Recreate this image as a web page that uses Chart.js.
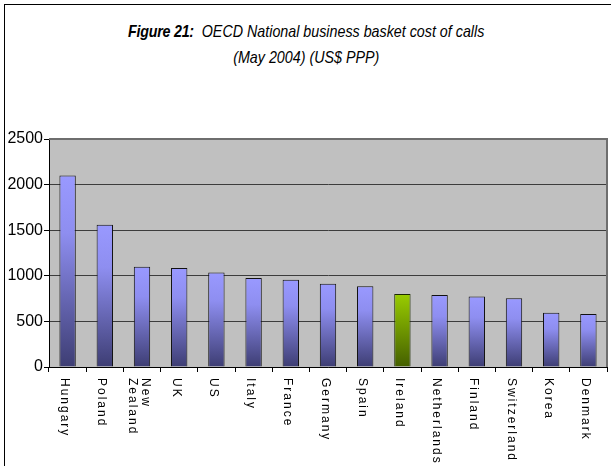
<!DOCTYPE html>
<html lang="en">
<head>
  <meta charset="UTF-8">
  <title>OECD National business basket cost of calls</title>
  <style>
    * { margin: 0; padding: 0; box-sizing: border-box; }
    html, body { width: 611px; height: 466px; background: #fff; overflow: hidden; }
    #wrap { position: relative; width: 611px; height: 466px; }
    #frame {
      position: absolute; left: 4px; top: 4px; width: 620px; height: 480px;
      border-left: 1px solid #000; border-top: 1px solid #000;
    }
    #title {
      position: absolute; left: 0; top: 19px; width: 611px;
      text-align: center; font-family: 'Liberation Sans Narrow', 'Arial Narrow', 'Liberation Sans', sans-serif;
      font-size: 17px; font-style: italic; line-height: 26px; color: #000;
      transform: scaleX(0.84); transform-origin: 310px 0;
    }
    #title b { font-weight: bold; letter-spacing: -0.3px; }
    canvas { position: absolute; left: 0; top: 0; }
  </style>
  <script src="https://cdn.jsdelivr.net/npm/chart.js"></script>
</head>
<body>
  <div id="wrap">
    <div id="frame"></div>
    <div id="title"><b>Figure 21:</b>&nbsp; OECD National business basket cost of calls<br>(May 2004) (US$ PPP)</div>
    <canvas id="chart" width="611" height="466"></canvas>
  </div>

  <script>
    // data
    const countries = ['Hungary', 'Poland', ['New', 'Zealand'], 'UK', 'US', 'Italy', 'France', 'Germany',
                       'Spain', 'Ireland', 'Netherlands', 'Finland', 'Switzerland', 'Korea', 'Denmark'];
    const cost = [2100, 1560, 1100, 1085, 1035, 975, 958, 912, 885, 800, 790, 772, 753, 596, 581];
    const yTicks = [0, 500, 1000, 1500, 2000, 2500];
    const highlight = 'Ireland';

    const font = "'Liberation Sans', Arial, sans-serif";

    function barFill(ctx) {
      const chart = ctx.chart;
      const y = chart.scales.y;
      const hi = countries[ctx.dataIndex] === highlight;
      if (!y || ctx.type !== 'data') return hi ? '#99cc00' : '#9999ff';
      const top = y.getPixelForValue(ctx.parsed.y);
      const bot = y.getPixelForValue(0);
      if (!isFinite(top) || !isFinite(bot)) return hi ? '#99cc00' : '#9999ff';
      const g = chart.ctx.createLinearGradient(0, top, 0, bot);
      if (hi) {
        g.addColorStop(0, '#99cc00');
        g.addColorStop(1, '#445f00');
      } else {
        g.addColorStop(0, '#9999ff');
        g.addColorStop(0.3, '#8e8ef0');
        g.addColorStop(1, '#3d3d73');
      }
      return g;
    }

    // grey plot area + top/right border
    const plotBg = {
      id: 'plotBg',
      beforeDraw(chart) {
        const { ctx, chartArea: a } = chart;
        ctx.save();
        ctx.fillStyle = '#c0c0c0';
        ctx.fillRect(a.left, a.top, a.right - a.left, a.bottom - a.top);
        ctx.restore();
      },
      afterDatasetsDraw(chart) {
        const { ctx, chartArea: a } = chart;
        ctx.save();
        ctx.strokeStyle = '#6e6e6e';
        ctx.lineWidth = 2;
        ctx.beginPath();
        ctx.moveTo(a.left, a.top);
        ctx.lineTo(a.right, a.top);
        ctx.lineTo(a.right, a.bottom);
        ctx.stroke();
        ctx.restore();
      }
    };

    // x labels read top-to-bottom (rotated clockwise)
    const xLabels = {
      id: 'xLabels',
      afterDraw(chart) {
        const { ctx } = chart;
        const x = chart.scales.x;
        ctx.save();
        ctx.fillStyle = '#000';
        ctx.font = '12px ' + font;
        ctx.letterSpacing = '2px';
        ctx.textAlign = 'left';
        ctx.textBaseline = 'middle';
        countries.forEach((c, i) => {
          const lines = Array.isArray(c) ? c : [c];
          const cx = x.getPixelForValue(i) - 3;
          lines.forEach((ln, j) => {
            const off = (j - (lines.length - 1) / 2) * -13;
            ctx.save();
            ctx.translate(cx + off, 378);
            ctx.rotate(Math.PI / 2);
            ctx.fillText(ln, 0, 0);
            ctx.restore();
          });
        });
        ctx.restore();
      }
    };

    new Chart(document.getElementById('chart'), {
      type: 'bar',
      data: {
        labels: countries,
        datasets: [{
          data: cost,
          backgroundColor: barFill,
          borderColor: countries.map(c => c === highlight ? '#1c2a00' : '#111'),
          borderWidth: 1,
          borderSkipped: 'bottom',
          barPercentage: 0.44,
          categoryPercentage: 1
        }]
      },
      options: {
        responsive: false,
        animation: false,
        layout: { padding: { left: 0, top: 139, right: 4, bottom: 94 } },
        plugins: { legend: { display: false }, tooltip: { enabled: false }, title: { display: false } },
        scales: {
          x: {
            offset: true,
            grid: { display: true, drawOnChartArea: false, offset: true, tickLength: 5, tickColor: '#000', color: '#000' },
            border: { color: '#000', width: 1 },
            ticks: { display: false }
          },
          y: {
            min: 0, max: 2500,
            afterBuildTicks(s) { s.ticks = yTicks.map(v => ({ value: v })); },
            afterFit(s) { s.width = 49; },
            grid: { color: '#3c3c3c', lineWidth: 1, tickLength: 5, tickColor: '#000' },
            border: { color: '#000', width: 1 },
            ticks: { color: '#000', font: { family: font, size: 16 }, padding: 1, callback: v => String(v) }
          }
        }
      },
      plugins: [plotBg, xLabels]
    });
  </script>
</body>
</html>
